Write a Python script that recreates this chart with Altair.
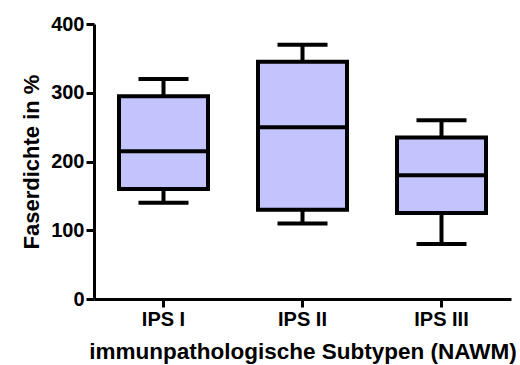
import altair as alt
import pandas as pd

# Fibre density per immunopathological subtype (box-and-whisker summary)
groups = ["IPS I", "IPS II", "IPS III"]
whisker_low = [140, 110, 80]
box_low = [160, 130, 125]
median = [215, 250, 180]
box_high = [295, 345, 235]
whisker_high = [320, 370, 260]

df = pd.DataFrame({
    "group": groups,
    "lo": whisker_low,
    "q1": box_low,
    "med": median,
    "q3": box_high,
    "hi": whisker_high,
})

FONT = "Liberation Sans"
FILL = "#c3c3fd"

x_enc = alt.X(
    "group:N",
    sort=groups,
    scale=alt.Scale(paddingInner=0, paddingOuter=0),
    axis=alt.Axis(
        title="immunpathologische Subtypen (NAWM)",
        labelAngle=0,
        labelPadding=2,
        titlePadding=11,
        titleFontSize=22.5,
    ),
)
y_scale = alt.Scale(domain=[0, 400], nice=False)
y_axis = alt.Axis(
    title="Faserdichte in %",
    values=[0, 100, 200, 300, 400],
    labelPadding=2,
    titlePadding=7,
    titleFontSize=22,
)

base = alt.Chart(df)

whiskers = base.mark_rule(color="black", strokeWidth=4).encode(
    x=x_enc,
    y=alt.Y("lo:Q", scale=y_scale, axis=y_axis),
    y2="hi:Q",
)

caps_low = base.mark_tick(color="black", size=50, thickness=4, opacity=1).encode(
    x=x_enc, y=alt.Y("lo:Q", scale=y_scale, axis=y_axis)
)
caps_high = base.mark_tick(color="black", size=50, thickness=4, opacity=1).encode(
    x=x_enc, y=alt.Y("hi:Q", scale=y_scale, axis=y_axis)
)

boxes = base.mark_bar(
    size=89, fill=FILL, stroke="black", strokeWidth=4, opacity=1
).encode(
    x=x_enc,
    y=alt.Y("q1:Q", scale=y_scale, axis=y_axis),
    y2="q3:Q",
)

medians = base.mark_tick(color="black", size=89, thickness=4, opacity=1).encode(
    x=x_enc, y=alt.Y("med:Q", scale=y_scale, axis=y_axis)
)

chart = (
    alt.layer(whiskers, caps_low, caps_high, boxes, medians)
    .properties(
        width=417,
        height=275,
        autosize=alt.AutoSizeParams(type="none"),
        padding={"left": 94, "top": 24, "right": 9, "bottom": 66},
        background="white",
    )
    .configure_view(stroke=None)
    .configure_axis(
        grid=False,
        domainColor="black",
        domainWidth=3,
        domainOpacity=1,
        tickColor="black",
        tickWidth=3,
        tickSize=8,
        tickOpacity=1,
        labelFont=FONT,
        labelFontWeight="bold",
        labelFontSize=20,
        labelColor="black",
        titleFont=FONT,
        titleFontWeight="bold",
        titleColor="black",
    )
)

chart.save("out.html", embed_options={"renderer": "svg", "actions": False})
